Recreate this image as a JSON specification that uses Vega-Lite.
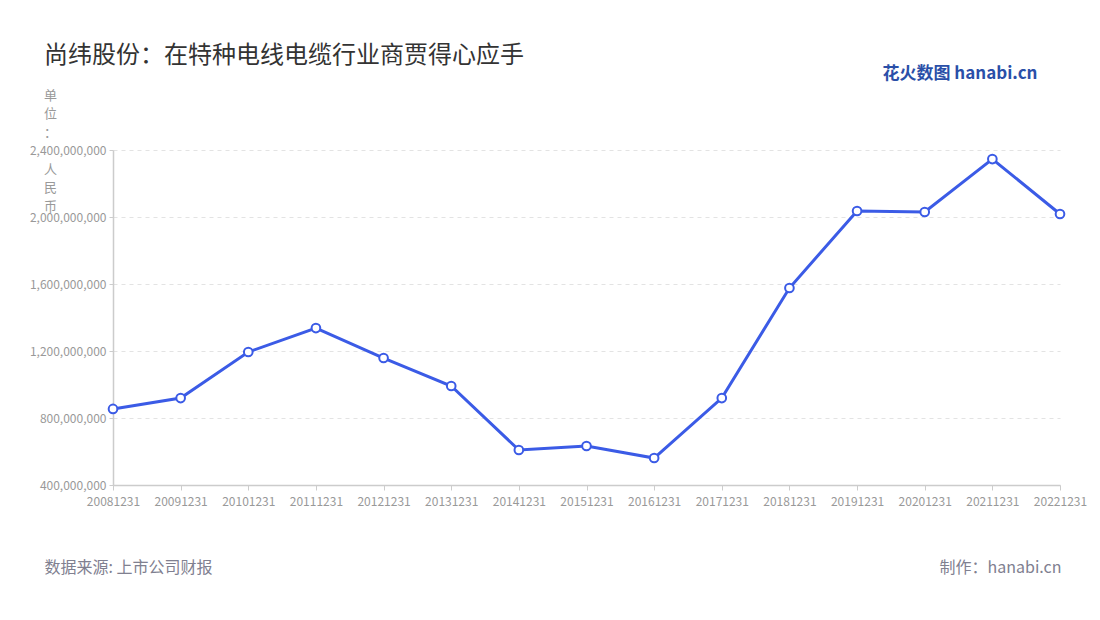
{
  "$schema": "https://vega.github.io/schema/vega-lite/v6.json",
  "width": 947,
  "height": 335,
  "autosize": {"type": "none"},
  "padding": {"left": 113, "top": 150, "right": 40, "bottom": 135},
  "background": "white",
  "config": {"font": "Noto Sans CJK SC", "view": {"stroke": null}},
  "title": {
    "text": "尚纬股份：在特种电线电缆行业商贾得心应手",
    "anchor": "start",
    "frame": "group",
    "dx": -69,
    "dy": 8,
    "fontSize": 24,
    "fontWeight": "normal",
    "color": "#333333"
  },
  "data": {
    "values": [
      {"date": "20081231", "value": 854000000},
      {"date": "20091231", "value": 919000000},
      {"date": "20101231", "value": 1194000000},
      {"date": "20111231", "value": 1337000000},
      {"date": "20121231", "value": 1158000000},
      {"date": "20131231", "value": 991000000},
      {"date": "20141231", "value": 609000000},
      {"date": "20151231", "value": 633000000},
      {"date": "20161231", "value": 561000000},
      {"date": "20171231", "value": 919000000},
      {"date": "20181231", "value": 1576000000},
      {"date": "20191231", "value": 2036000000},
      {"date": "20201231", "value": 2030000000},
      {"date": "20211231", "value": 2346000000},
      {"date": "20221231", "value": 2018000000}
    ]
  },
  "resolve": {"axis": {"x": "independent", "y": "independent"}},
  "layer": [
    {
      "mark": {"type": "line", "color": "#3b5be6", "strokeWidth": 3},
      "encoding": {
        "x": {
          "field": "date", "type": "ordinal",
          "scale": {"type": "point", "padding": 0},
          "axis": {
            "orient": "bottom",
            "labelAngle": 0, "labelColor": "#999999", "labelFontSize": 12,
            "labelPadding": 6, "tickSize": 5, "tickColor": "#cccccc",
            "domainColor": "#cccccc", "domainWidth": 1.5, "grid": false,
            "title": "数据来源: 上市公司财报",
            "titleX": -69, "titleY": 82, "titleAlign": "left", "titleBaseline": "middle",
            "titleFontSize": 16, "titleFontWeight": "normal", "titleColor": "#808090"
          }
        },
        "y": {
          "field": "value", "type": "quantitative",
          "scale": {"domain": [400000000, 2400000000], "nice": false, "zero": false},
          "axis": {
            "orient": "left",
            "values": [400000000, 800000000, 1200000000, 1600000000, 2000000000, 2400000000],
            "format": ",.0f",
            "labelColor": "#999999", "labelFontSize": 12, "labelPadding": 3,
            "tickSize": 4, "tickColor": "#cccccc",
            "domainColor": "#cccccc", "domainWidth": 1.5,
            "grid": true, "gridColor": "#e3e3e3", "gridDash": [4, 4],
            "title": ["单", "位", "：", "\u200b", "人", "民", "币"],
            "titleAngle": 0, "titleX": -63, "titleY": -61,
            "titleAlign": "center", "titleBaseline": "top",
            "titleFontSize": 13, "titleFontWeight": "normal", "titleColor": "#999999",
            "titleLineHeight": 18.5
          }
        }
      }
    },
    {
      "mark": {"type": "point", "filled": true, "fill": "white", "stroke": "#3b5be6", "strokeWidth": 2, "size": 75, "opacity": 1},
      "encoding": {
        "x": {
          "field": "date", "type": "ordinal",
          "scale": {"type": "point", "padding": 0},
          "axis": {
            "orient": "top", "labels": false, "ticks": false, "domain": false, "grid": false,
            "title": "花火数图 hanabi.cn",
            "titleX": 924, "titleY": -77, "titleAlign": "right", "titleBaseline": "middle",
            "titleFontSize": 17, "titleFontWeight": "bold", "titleColor": "#2a4fa8"
          }
        },
        "y": {
          "field": "value", "type": "quantitative",
          "scale": {"domain": [400000000, 2400000000], "nice": false, "zero": false},
          "axis": {
            "orient": "right", "labels": false, "ticks": false, "domain": false, "grid": false,
            "title": "制作：hanabi.cn",
            "titleAngle": 0, "titleX": 1, "titleY": 417, "titleAlign": "right", "titleBaseline": "middle",
            "titleFontSize": 16, "titleFontWeight": "normal", "titleColor": "#808090"
          }
        }
      }
    }
  ]
}
